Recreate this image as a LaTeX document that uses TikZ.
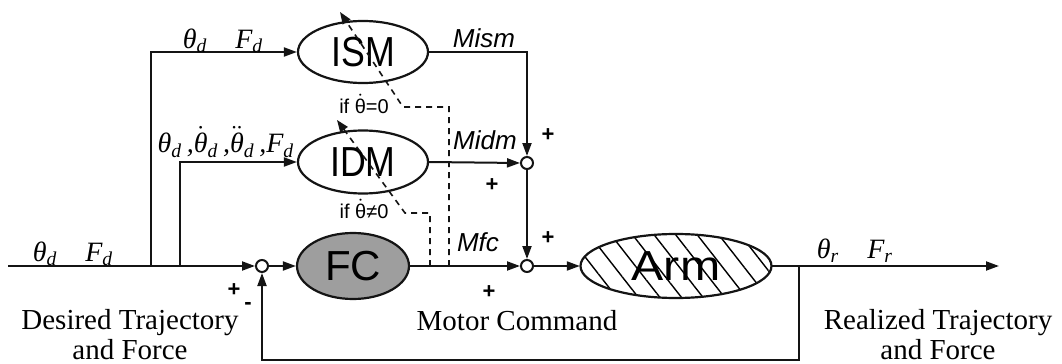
\documentclass[tikz,border=0pt]{standalone}
\usepackage{fontspec}
\setmainfont{Liberation Serif}
\setsansfont{Liberation Sans}
\usetikzlibrary{arrows.meta,shapes.geometric,patterns.meta}
\definecolor{ctlink}{gray}{0.08}
\definecolor{ctlfc}{gray}{0.62}
\newcommand\tht{\mbox{\itshape θ}}
\newcommand\sbd{\textsubscript{\itshape d}}
\tikzset{
  blk/.style={ellipse, draw=ctlink, line width=1.1pt, inner sep=0pt, fill=white, font=\sffamily\fontsize{21}{21}\selectfont},
  sm/.style={circle, draw=ctlink, line width=1pt, fill=white, inner sep=0pt, minimum size=6pt},
  arr/.style={-{Triangle[length=6.5pt,width=4.5pt]}, line width=1pt, color=ctlink},
  ln/.style={line width=1pt, color=ctlink},
  dsh/.style={-{Triangle[length=6pt,width=4.5pt]}, line width=0.8pt, dash pattern=on 3pt off 2.5pt, color=ctlink},
  lbl/.style={font=\sffamily\itshape\fontsize{13}{13}\selectfont},
  sig/.style={font=\itshape\fontsize{14}{14}\selectfont, inner sep=0pt},
  pm/.style={font=\sffamily\bfseries\fontsize{11}{11}\selectfont},
  cnd/.style={font=\sffamily\fontsize{10}{10}\selectfont, inner sep=0pt},
  capn/.style={font=\fontsize{14.5}{15}\selectfont, align=center, inner sep=0pt},
}
\begin{document}
\begin{tikzpicture}[x=0.5pt, y=-0.5pt]
  \useasboundingbox (0,0) rectangle (1062,364);
  % blocks
  \node[blk, minimum width=65pt, minimum height=31pt] (ism) at (363,52) {\scalebox{0.85}[1]{ISM}};
  \node[blk, minimum width=65pt, minimum height=31.5pt] (idm) at (363,162) {\scalebox{0.85}[1]{IDM}};
  \node[blk, fill=ctlfc, minimum width=56pt, minimum height=33pt] (fc) at (353,266) {FC};
  \node[blk, pattern={Lines[angle=-52,distance=8.5pt,line width=0.7pt]}, minimum width=95.5pt, minimum height=32pt] (arm) at (676,266) {\scalebox{1.15}[1]{Arm}};
  \node[sm] (s1) at (262,266) {};
  \node[sm] (smid) at (527,163) {};
  \node[sm] (s2) at (527,266) {};
  % ends and branch points
  \coordinate (in) at (8,266);
  \coordinate (br1) at (151,266);
  \coordinate (br2) at (180,266);
  \coordinate (fb) at (799,266);
  \coordinate (fbl) at (799,360);
  \coordinate (out) at (999,266);
  % signal lines
  \draw[arr] (in) -- (s1.west);
  \draw[arr] (br1) |- (ism.west);
  \draw[arr] (br2) |- (idm.west);
  \draw[arr] (s1.east) -- (fc.west);
  \draw[arr] (fc.east) -- (s2.west);
  \draw[arr] (ism.east) -| (smid.north);
  \draw[arr] (idm.east) -- (smid.west);
  \draw[arr] (smid.south) -- (s2.north);
  \draw[arr] (s2.east) -- (arm.west);
  \draw[arr] (arm.east) -- (out);
  \draw[arr] (fb) -- (fbl) -| (s1.south);
  % switching lines
  \coordinate (d1a) at (449,266);
  \coordinate (d1b) at (449,107);
  \coordinate (d1c) at (403,107);
  \coordinate (d1t) at (340,12);
  \coordinate (d2a) at (430,266);
  \coordinate (d2b) at (430,213);
  \coordinate (d2c) at (405,213);
  \coordinate (d2t) at (337,120);
  \draw[dsh] (d1a) -- (d1b) -- (d1c) -- (d1t);
  \draw[dsh] (d2a) -- (d2b) -- (d2c) -- (d2t);
  % labels
  \node[sig] (thd) at (223,41) {\tht\sbd\quad F\sbd};
  \node[sig] (thdd) at (226,142) {\tht\sbd\,,$\dot{\tht}$\sbd\,,$\ddot{\tht}$\sbd\,,F\sbd};
  \node[sig] (thl) at (73,254) {\tht\sbd\quad F\sbd};
  \node[sig] (thr) at (855,251) {\tht\textsubscript{r}\quad F\textsubscript{r}};
  \node[lbl] (mism) at (484,38) {Mism};
  \node[lbl] (midm) at (485,140) {Midm};
  \node[lbl] (mfc) at (478,242) {Mfc};
  \node[cnd] (if0) at (364,104) {if $\dot{\mbox{θ}}$=0};
  \node[cnd] (if1) at (364,209) {if $\dot{\mbox{θ}}$≠0};
  \foreach \px/\py [count=\k] in {548/135, 492/185, 548/238, 489/292, 234/290}
    \node[pm] (pl\k) at (\px,\py) {+};
  \node[pm] (mn) at (248,306) {-};
  \node[capn] (dsr) at (130,335) {Desired Trajectory\\and Force};
  \node[capn] (mcmd) at (517,321) {Motor Command};
  \node[capn] (rlz) at (938,335) {Realized Trajectory\\and Force};
\end{tikzpicture}
\end{document}
